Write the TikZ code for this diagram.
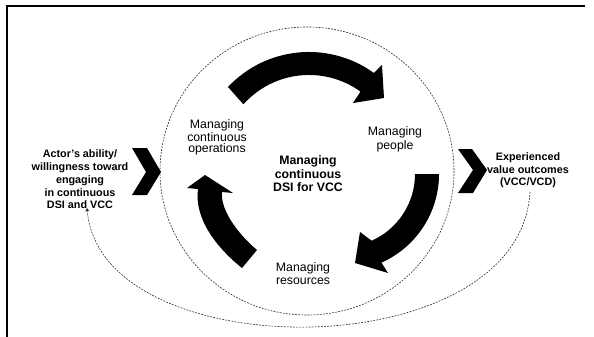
\documentclass[tikz,border=0pt]{standalone}
\usepackage{fontspec}
\setmainfont{Liberation Sans}
\usetikzlibrary{arrows.meta}
\begin{document}
\begin{tikzpicture}[x=1pt,y=-1pt,
  dashline/.style={draw=black!85, line width=0.6pt, dash pattern=on 1.8pt off 1.3pt},
  bigarrow/.style={fill=black, draw=none},
  chev/.style={fill=black, draw=none},
  lbl/.style={font=\fontsize{12.3}{13.5}\selectfont, align=center, inner sep=0pt},
  clbl/.style={font=\bfseries\fontsize{12.3}{13.6}\selectfont, align=center, inner sep=0pt},
  blbl/.style={font=\bfseries\fontsize{10.8}{12.7}\selectfont, align=center, inner sep=0pt},
]
\useasboundingbox (0,0) rectangle (594,337);
% frame
\draw[line width=2pt] (585,6) -- (7,6) -- (7,337);

% dashed circle
\draw[dashline] (307,171) ellipse[x radius=147, y radius=144];

% top arrow
\path[bigarrow] (228,87) arc[start angle=-136.8, end angle=-54.2, radius=111]
  -- (382,65) -- (384,98) -- (353,103) -- (360.5,91.6)
  arc[start angle=-54.2, end angle=-138.2, radius=88] -- cycle;
% right arrow
\path[bigarrow] (439,174) arc[start angle=0, end angle=66, radius=97]
  -- (388,273) -- (355,263) -- (360,232) -- (371.7,240.7)
  arc[start angle=66, end angle=0, radius=73] -- cycle;
% left arrow
\path[bigarrow] (242,268) .. controls (217,248) and (194,219) .. (198,189)
  -- (187,188) -- (205,175) -- (233,193) -- (222,192)
  .. controls (220,212) and (241.6,237.2) .. (257,250) -- cycle;

% chevrons
\path[chev] (132,148) -- (147,148) -- (161,172) -- (147,195) -- (132,195) -- (146,172) -- cycle;
\path[chev] (458,149) -- (472,149) -- (487,170) -- (473,193) -- (458,193) -- (473,170) -- cycle;

% texts
\node[lbl, font=\fontsize{12.3}{10.9}\selectfont] (ops) at (217,137.5) {Managing\\continuous\\operations};
\node[lbl, font=\fontsize{12.3}{14.5}\selectfont] (people) at (395,139.5) {Managing\\people};
\node[lbl] (res) at (303,273.5) {Managing\\resources};
\node[clbl] (center) at (308,174) {Managing\\continuous\\DSI for VCC};
\node[blbl] (actor) at (80,179.5) {Actor's ability/\\willingness toward\\engaging\\in continuous\\DSI and VCC};
\node[blbl] (value) at (528,170.5) {Experienced\\value outcomes\\(VCC/VCD)};

% feedback dashed curve
\coordinate (fbS) at (530,192);
\coordinate (fbE) at (87,208);
\draw[dashline, -{Stealth[length=3.5pt,width=4pt]}] (fbS) .. controls (520,369) and (100,369) .. (fbE);
\end{tikzpicture}
\end{document}
